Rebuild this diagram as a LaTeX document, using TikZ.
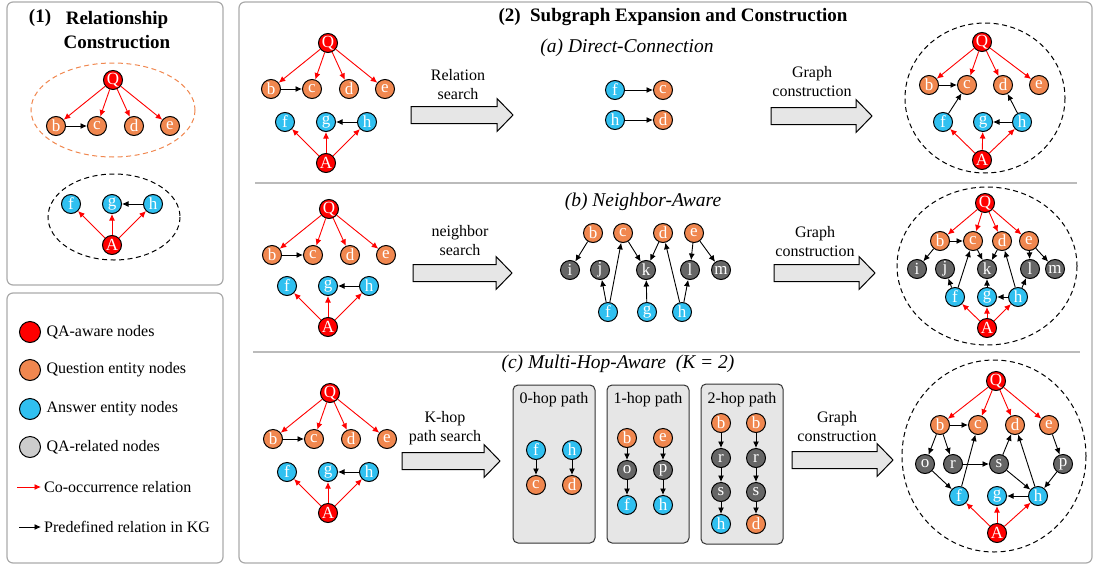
\documentclass[tikz,border=0pt]{standalone}
\usepackage{fontspec}
\setmainfont{Liberation Serif}
\definecolor{qaRed}{HTML}{FF0000}
\definecolor{qOrange}{HTML}{F0874F}
\definecolor{aCyan}{HTML}{30C0F0}
\definecolor{relGray}{HTML}{666666}
\definecolor{legGray}{HTML}{CCCCCC}
\definecolor{boxGray}{HTML}{E6E6E6}
\definecolor{frameGray}{HTML}{AAAAAA}
\usetikzlibrary{
	arrows.meta,
	positioning,
	calc
}
\tikzset{
	ent/.style={
		circle,
		draw=black,
		line width=1pt,
		minimum size=19pt,
		inner sep=0pt,
		text=white,
		font=\fontsize{17}{17}\selectfont
	},
	qanode/.style={ent, fill=qaRed},
	qnode/.style={ent, fill=qOrange},
	anode/.style={ent, fill=aCyan},
	rnode/.style={ent, fill=relGray},
	corel/.style={
		-{Latex[length=6.5pt,width=6pt]},
		line width=0.9pt,
		qaRed
	},
	kgrel/.style={
		-{Latex[length=6.5pt,width=6pt]},
		line width=0.9pt,
		black
	},
	panel/.style={
		draw=frameGray,
		line width=1.2pt,
		rounded corners=6pt
	},
	separator/.style={
		draw=frameGray!80,
		line width=1.5pt
	},
	hopbox/.style={
		draw=black!80,
		fill=boxGray,
		line width=1pt,
		rounded corners=5pt
	},
	bigarrow/.style={
		draw=black,
		fill=boxGray,
		line width=1pt
	},
	groupring/.style={
		dashed,
		dash pattern=on 5pt off 3.5pt,
		line width=1pt
	},
	txt/.style={
		font=\fontsize{16}{19}\selectfont,
		align=center
	},
	sectitle/.style={
		font=\fontsize{19}{24}\selectfont\bfseries,
		align=center
	},
	subtitle/.style={
		font=\fontsize{19.5}{22}\selectfont\itshape
	}
}
% question side: Q with b, c, d, e (Q placed at #2,#3)
\newcommand{\QGroup}[3]{%
	\begin{scope}[shift={(#2,#3)}]
		\node[qanode] (#1Q) at (0,0) {Q};
		\node[qnode] (#1b) at (-57,46) {b};
		\node[qnode] (#1c) at (-16,46) {c};
		\node[qnode] (#1d) at (21,46) {d};
		\node[qnode] (#1e) at (57,46) {e};
	\end{scope}
	\draw[corel] (#1Q) -- (#1b);
	\draw[corel] (#1Q) -- (#1c);
	\draw[corel] (#1Q) -- (#1d);
	\draw[corel] (#1Q) -- (#1e);
	\draw[kgrel] (#1b) -- (#1c);
}
% answer side: A with f, g, h (A placed at #2,#3)
\newcommand{\AGroup}[3]{%
	\begin{scope}[shift={(#2,#3)}]
		\node[qanode] (#1A) at (0,0) {A};
		\node[anode] (#1f) at (-41,-41) {f};
		\node[anode] (#1g) at (0,-41) {g};
		\node[anode] (#1h) at (41,-41) {h};
	\end{scope}
	\draw[corel] (#1A) -- (#1f);
	\draw[corel] (#1A) -- (#1g);
	\draw[corel] (#1A) -- (#1h);
	\draw[kgrel] (#1h) -- (#1g);
}
% wide grey arrow from #1 to #2 at height #3
\newcommand{\BigArrow}[3]{%
	\draw[bigarrow] (#1,#3-8.5) -- (#2-16,#3-8.5) -- (#2-16,#3-16.5) -- (#2,#3)
		-- (#2-16,#3+16.5) -- (#2-16,#3+8.5) -- (#1,#3+8.5) -- cycle;
}

\begin{document}
\begin{tikzpicture}[x=1pt, y=-1pt]
	\useasboundingbox (0,0) rectangle (1094,565);
	% frames
	\draw[panel] (7,2) rectangle (223,285);
	\draw[panel] (7,293) rectangle (223,563);
	\draw[panel] (239,2) rectangle (1092,563);
	\draw[separator] (255,183) -- (1077,183);
	\draw[separator] (253,352) -- (1080,352);

	% (1) relationship construction
	\node[sectitle] (t1n) at (40,18) {(1)};
	\node[sectitle] (t1) at (117,30) {Relationship\\Construction};
	\draw[groupring, qOrange] (113,110) ellipse [x radius=82, y radius=47];
	\draw[groupring, black] (114,217) ellipse [x radius=66, y radius=43];
	\QGroup{r}{113}{80}
	\AGroup{r}{112}{245}

	% legend
	\node[qanode, minimum size=21pt] (lq) at (30,332) {};
	\node[qnode, minimum size=21pt] (lo) at (30,370) {};
	\node[anode, minimum size=21pt] (lc) at (30,409) {};
	\node[ent, fill=legGray, minimum size=21pt] (lg) at (30,447) {};
	\node[txt, right=2pt of lq] {QA-aware nodes};
	\node[txt, right=2pt of lo] {Question entity nodes};
	\node[txt, right=2pt of lc] {Answer entity nodes};
	\node[txt, right=2pt of lg] {QA-related nodes};
	\node[txt, anchor=west, inner xsep=3pt] (lco) at (41,487) {Co-occurrence relation};
	\node[txt, anchor=west, inner xsep=3pt] (lkg) at (41,527) {Predefined relation in KG};
	\coordinate (lco0) at (17,487);
	\coordinate (lkg0) at (19,527);
	\draw[corel] (lco0) -- (lco.west);
	\draw[kgrel] (lkg0) -- (lkg.west);

	% (2) subgraph expansion and construction
	\node[sectitle] (t2) at (673,17) {(2)~~Subgraph Expansion and Construction};

	% (a) direct connection
	\node[subtitle] (ta) at (627,48) {(a) Direct-Connection};
	\QGroup{al}{328}{43}
	\AGroup{al}{326}{163}
	\BigArrow{411}{513}{115}
	\node[txt] (la1) at (458,85) {Relation\\search};
	\node[anode] (amf) at (615,90) {f};
	\node[qnode] (amc) at (663,90) {c};
	\node[anode] (amh) at (615,120) {h};
	\node[qnode] (amd) at (663,120) {d};
	\draw[kgrel] (amf) -- (amc);
	\draw[kgrel] (amh) -- (amd);
	\BigArrow{771}{872}{116}
	\node[txt] (la2) at (812,82) {Graph\\construction};
	\draw[groupring, black] (985,98) ellipse [x radius=80, y radius=75];
	\node[qanode] (arQ) at (982,42) {Q};
	\node[qnode] (arb) at (929,85) {b};
	\node[qnode] (arc) at (967,85) {c};
	\node[qnode] (ard) at (1003,85) {d};
	\node[qnode] (are) at (1039,85) {e};
	\node[anode] (arf) at (943,122) {f};
	\node[anode] (arg) at (983,122) {g};
	\node[anode] (arh) at (1022,122) {h};
	\node[qanode] (arA) at (982,160) {A};
	\draw[corel] (arQ) -- (arb);
	\draw[corel] (arQ) -- (arc);
	\draw[corel] (arQ) -- (ard);
	\draw[corel] (arQ) -- (are);
	\draw[kgrel] (arb) -- (arc);
	\draw[kgrel] (arf) -- (arc);
	\draw[kgrel] (arh) -- (ard);
	\draw[kgrel] (arh) -- (arg);
	\draw[corel] (arA) -- (arf);
	\draw[corel] (arA) -- (arg);
	\draw[corel] (arA) -- (arh);

	% (b) neighbor aware
	\node[subtitle] (tb) at (643,202) {(b) Neighbor-Aware};
	\QGroup{bl}{329}{209}
	\AGroup{bl}{328}{327}
	\BigArrow{413}{512}{273}
	\node[txt] (lb1) at (460,241) {neighbor\\search};
	\node[qnode] (bmb) at (593,233) {b};
	\node[qnode] (bmc) at (623,233) {c};
	\node[qnode] (bmd) at (663,233) {d};
	\node[qnode] (bme) at (694,233) {e};
	\node[rnode] (bmi) at (570,270) {i};
	\node[rnode] (bmj) at (600,270) {j};
	\node[rnode] (bmk) at (646,270) {k};
	\node[rnode] (bml) at (690,270) {l};
	\node[rnode] (bmm) at (721,270) {m};
	\node[anode] (bmf) at (608,312) {f};
	\node[anode] (bmg) at (647,312) {g};
	\node[anode] (bmh) at (682,312) {h};
	\draw[kgrel] (bmb) -- (bmi);
	\draw[kgrel] (bmc) -- (bmk);
	\draw[kgrel] (bmd) -- (bmk);
	\draw[kgrel] (bme) -- (bml);
	\draw[kgrel] (bme) -- (bmm);
	\draw[kgrel] (bmf) -- (bmj);
	\draw[kgrel] (bmf) -- (bmc);
	\draw[kgrel] (bmg) -- (bmk);
	\draw[kgrel] (bmh) -- (bmd);
	\draw[kgrel] (bmh) -- (bml);
	\BigArrow{774}{875}{273}
	\node[txt] (lb2) at (815,242) {Graph\\construction};
	\draw[groupring, black] (987,266) ellipse [x radius=90, y radius=79];
	\node[qanode] (brQ) at (985,203) {Q};
	\node[qnode] (brb) at (940,241) {b};
	\node[qnode] (brc) at (973,241) {c};
	\node[qnode] (brd) at (1002,241) {d};
	\node[qnode] (bre) at (1029,241) {e};
	\node[rnode] (bri) at (917,269) {i};
	\node[rnode] (brj) at (945,269) {j};
	\node[rnode] (brk) at (987,269) {k};
	\node[rnode] (brl) at (1030,269) {l};
	\node[rnode] (brm) at (1055,269) {m};
	\node[anode] (brf) at (955,297) {f};
	\node[anode] (brg) at (987,297) {g};
	\node[anode] (brh) at (1018,297) {h};
	\node[qanode] (brA) at (987,328) {A};
	\draw[corel] (brQ) -- (brb);
	\draw[corel] (brQ) -- (brc);
	\draw[corel] (brQ) -- (brd);
	\draw[corel] (brQ) -- (bre);
	\draw[kgrel] (brb) -- (brc);
	\draw[kgrel] (brb) -- (bri);
	\draw[kgrel] (brc) -- (brk);
	\draw[kgrel] (brd) -- (brk);
	\draw[kgrel] (bre) -- (brl);
	\draw[kgrel] (bre) -- (brm);
	\draw[kgrel] (brf) -- (brj);
	\draw[kgrel] (brf) -- (brc);
	\draw[kgrel] (brg) -- (brk);
	\draw[kgrel] (brh) -- (brd);
	\draw[kgrel] (brh) -- (brl);
	\draw[kgrel] (brh) -- (brg);
	\draw[corel] (brA) -- (brf);
	\draw[corel] (brA) -- (brg);
	\draw[corel] (brA) -- (brh);

	% (c) multi-hop aware
	\node[subtitle] (tc) at (618,364) {(c) Multi-Hop-Aware~~(K = 2)};
	\QGroup{cl}{330}{393}
	\AGroup{cl}{328}{513}
	\BigArrow{402}{500}{461}
	\node[txt] (lc1) at (445,428) {K-hop\\path search};
	% hop paths
	\draw[hopbox] (513,385) rectangle (595,543);
	\draw[hopbox] (607,385) rectangle (689,543);
	\draw[hopbox] (701,384) rectangle (783,544);
	\node[txt] (h0) at (554,400) {0-hop path};
	\node[txt] (h1) at (648,400) {1-hop path};
	\node[txt] (h2) at (742,400) {2-hop path};
	\node[anode] (z0f) at (536,450) {f};
	\node[qnode] (z0c) at (536,485) {c};
	\node[anode] (z0h) at (572,450) {h};
	\node[qnode] (z0d) at (572,485) {d};
	\draw[kgrel] (z0f) -- (z0c);
	\draw[kgrel] (z0h) -- (z0d);
	\node[qnode] (z1b) at (627,438) {b};
	\node[rnode] (z1o) at (627,470) {o};
	\node[anode] (z1f) at (627,505) {f};
	\node[qnode] (z1e) at (663,438) {e};
	\node[rnode] (z1p) at (663,470) {p};
	\node[anode] (z1h) at (663,505) {h};
	\draw[kgrel] (z1b) -- (z1o);
	\draw[kgrel] (z1o) -- (z1f);
	\draw[kgrel] (z1e) -- (z1p);
	\draw[kgrel] (z1p) -- (z1h);
	\node[qnode] (z2b) at (721,423) {b};
	\node[rnode] (z2r) at (721,458) {r};
	\node[rnode] (z2s) at (721,492) {s};
	\node[anode] (z2h) at (721,524) {h};
	\node[qnode] (z2bb) at (756,423) {b};
	\node[rnode] (z2rr) at (756,458) {r};
	\node[rnode] (z2ss) at (756,492) {s};
	\node[qnode] (z2d) at (756,524) {d};
	\draw[kgrel] (z2b) -- (z2r);
	\draw[kgrel] (z2r) -- (z2s);
	\draw[kgrel] (z2s) -- (z2h);
	\draw[kgrel] (z2bb) -- (z2rr);
	\draw[kgrel] (z2rr) -- (z2ss);
	\draw[kgrel] (z2ss) -- (z2d);
	\BigArrow{792}{893}{460}
	\node[txt] (lc2) at (837,427) {Graph\\construction};
	\draw[groupring, black] (994,456) ellipse [x radius=92, y radius=96];
	\node[qanode] (crQ) at (996,381) {Q};
	\node[qnode] (crb) at (940,425) {b};
	\node[qnode] (crc) at (978,425) {c};
	\node[qnode] (crd) at (1015,425) {d};
	\node[qnode] (cre) at (1049,425) {e};
	\node[rnode] (cro) at (925,464) {o};
	\node[rnode] (crr) at (953,464) {r};
	\node[rnode] (crs) at (999,464) {s};
	\node[rnode] (crp) at (1063,464) {p};
	\node[anode] (crf) at (959,496) {f};
	\node[anode] (crg) at (997,496) {g};
	\node[anode] (crh) at (1038,496) {h};
	\node[qanode] (crA) at (997,533) {A};
	\draw[corel] (crQ) -- (crb);
	\draw[corel] (crQ) -- (crc);
	\draw[corel] (crQ) -- (crd);
	\draw[corel] (crQ) -- (cre);
	\draw[kgrel] (crb) -- (crc);
	\draw[kgrel] (crb) -- (cro);
	\draw[kgrel] (crb) -- (crr);
	\draw[kgrel] (crr) -- (crs);
	\draw[kgrel] (crs) -- (crd);
	\draw[kgrel] (crs) -- (crh);
	\draw[kgrel] (cro) -- (crf);
	\draw[kgrel] (crf) -- (crc);
	\draw[kgrel] (cre) -- (crp);
	\draw[kgrel] (crp) -- (crh);
	\draw[kgrel] (crh) -- (crd);
	\draw[kgrel] (crh) -- (crg);
	\draw[corel] (crA) -- (crf);
	\draw[corel] (crA) -- (crg);
	\draw[corel] (crA) -- (crh);
\end{tikzpicture}
\end{document}
